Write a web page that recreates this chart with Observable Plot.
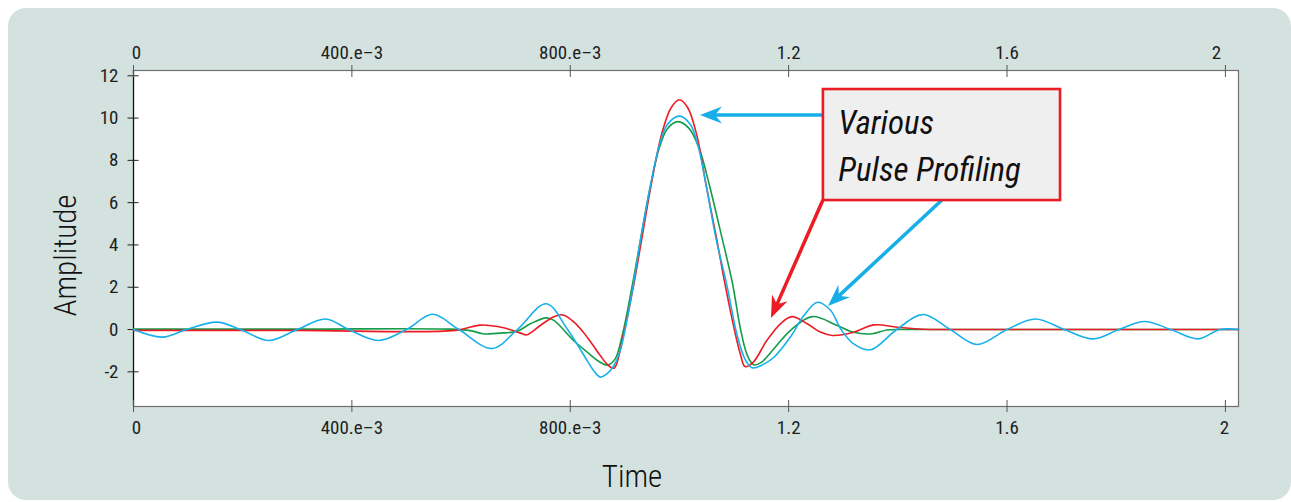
<!DOCTYPE html>
<html>
<head>
<meta charset="utf-8">
<script src="https://cdn.jsdelivr.net/npm/d3@7"></script>
<script src="https://cdn.jsdelivr.net/npm/@observablehq/plot@0.6"></script>
<style>
  html, body { margin: 0; padding: 0; background: #ffffff; }
  #wrap { position: relative; width: 1291px; height: 502px; overflow: hidden; }
  #panel { position: absolute; left: 8px; top: 8px; width: 1283px; height: 492px; background: #d4e2df; border-radius: 18px; }
  #chart { position: absolute; left: 0; top: 0; }
</style>
</head>
<body>
<div id="wrap"><div id="panel"></div><div id="chart"></div></div>
<script>
// ---- data ----
const xDomain = [0, 2.024];
const yDomain = [-3.64, 12.25];
const xTicks = [0, 0.4, 0.8, 1.2, 1.6, 2];
const xTickLabels = ["0", "400.e\u20133", "800.e\u20133", "1.2", "1.6", "2"];
const yTicks = [-2, 0, 2, 4, 6, 8, 10, 12];

const blueT = [0, 0.053, 0.097, 0.153, 0.196, 0.248, 0.300, 0.352, 0.394, 0.449, 0.500, 0.548, 0.596, 0.657, 0.703, 0.756, 0.795, 0.831, 0.843, 0.855, 0.867, 0.880, 0.892, 0.905, 0.916, 0.930, 0.947, 0.962, 0.978, 1.000, 1.020, 1.034, 1.049, 1.067, 1.087, 1.105, 1.120, 1.133, 1.150, 1.173, 1.203, 1.228, 1.253, 1.277, 1.296, 1.319, 1.350, 1.398, 1.446, 1.496, 1.545, 1.600, 1.652, 1.705, 1.758, 1.805, 1.852, 1.900, 1.950, 1.990, 2.024];
const blueV = [0, -0.36, 0, 0.35, 0, -0.52, 0, 0.50, 0, -0.52, 0, 0.72, 0, -0.90, 0, 1.22, 0, -1.47, -1.95, -2.25, -2.10, -1.70, -0.95, 0.60, 2.20, 4.44, 6.81, 8.60, 9.70, 10.09, 9.70, 8.70, 6.81, 4.30, 2.08, -0.20, -1.40, -1.81, -1.70, -1.31, -0.36, 0.66, 1.29, 0.90, 0, -0.68, -0.96, 0, 0.71, 0, -0.71, 0, 0.50, 0, -0.44, 0, 0.38, 0, -0.44, 0, 0];

const greenT = [0, 0.300, 0.580, 0.617, 0.640, 0.678, 0.703, 0.727, 0.756, 0.770, 0.806, 0.831, 0.852, 0.868, 0.882, 0.895, 0.913, 0.930, 0.947, 0.962, 0.978, 0.997, 1.018, 1.037, 1.055, 1.077, 1.097, 1.112, 1.124, 1.136, 1.150, 1.173, 1.203, 1.243, 1.289, 1.319, 1.353, 1.380, 1.410, 1.500, 1.700, 1.900, 2.024];
const greenV = [0.02, 0.02, 0.02, -0.05, -0.20, -0.16, -0.08, 0.27, 0.55, 0.43, -0.52, -1.07, -1.50, -1.68, -1.40, -0.30, 2.00, 4.44, 6.81, 8.50, 9.50, 9.83, 9.50, 8.50, 6.81, 4.44, 2.20, 0.0, -1.20, -1.67, -1.55, -0.91, -0.05, 0.61, 0.19, -0.13, -0.20, -0.02, 0.0, 0.0, 0.0, 0.0, 0.0];

const redT = [0, 0.300, 0.590, 0.635, 0.678, 0.709, 0.720, 0.745, 0.770, 0.787, 0.807, 0.831, 0.855, 0.868, 0.880, 0.897, 0.916, 0.932, 0.948, 0.968, 0.985, 1.000, 1.015, 1.032, 1.049, 1.067, 1.084, 1.103, 1.112, 1.120, 1.135, 1.160, 1.185, 1.206, 1.234, 1.258, 1.280, 1.319, 1.356, 1.399, 1.447, 1.500, 1.700, 1.900, 2.024];
const redV = [-0.04, -0.04, -0.04, 0.21, 0.08, -0.17, -0.25, 0.19, 0.61, 0.69, 0.35, -0.36, -1.23, -1.65, -1.83, -0.28, 2.08, 4.44, 6.81, 9.30, 10.50, 10.87, 10.50, 9.17, 6.81, 4.44, 2.08, -0.28, -1.20, -1.75, -1.55, -0.52, 0.27, 0.61, 0.27, -0.12, -0.28, -0.13, 0.22, 0.11, 0.01, 0.0, 0.0, 0.0, 0.0];

const seriesNames = ["green", "red", "blue"];
const seriesColors = ["#149c48", "#ec1c24", "#17b0ea"];

// annotation (data units)
const boxX = [1.2637, 1.698];
const boxY = [6.10, 11.35];
const noteText = "Various\nPulse Profiling";
const noteX = 1.291;
const noteY = 7.04;
const arrowX1 = [1.2637, 1.2637, 1.4817];
const arrowY1 = [10.12, 6.10, 6.10];
const arrowX2 = [1.0385, 1.1685, 1.273];
const arrowY2 = [10.12, 0.52, 1.09];
const arrowColor = ["#17aee8", "#ec1c24", "#17aee8"];

// ---- build tables ----
const seriesT = {blue: blueT, green: greenT, red: redT};
const seriesV = {blue: blueV, green: greenV, red: redV};
const lineData = seriesNames.flatMap(s => seriesT[s].map((t, i) => ({series: s, t, v: seriesV[s][i]})));
const tickData = xTicks.map((v, i) => ({v, label: xTickLabels[i], i}));
const arrows = arrowX1.map((x1, i) => ({x1, y1: arrowY1[i], x2: arrowX2[i], y2: arrowY2[i], color: arrowColor[i]}));

const FONT = '"Liberation Sans Narrow", "Roboto Condensed", "DejaVu Sans Condensed", "Arial Narrow", Roboto, sans-serif';

const arrowMark = (index, scales) => {
  const g = d3.create("svg:g");
  for (const a of arrows) {
    const x1 = scales.x(a.x1), y1 = scales.y(a.y1), x2 = scales.x(a.x2), y2 = scales.y(a.y2);
    const ang = Math.atan2(y2 - y1, x2 - x1);
    const ux = Math.cos(ang), uy = Math.sin(ang), px = -uy, py = ux;
    const L = 22, W = 8.5, N = 15;
    const bx = x2 - ux * L, by = y2 - uy * L;
    const nx = x2 - ux * N, ny = y2 - uy * N;
    g.append("line")
      .attr("x1", x1).attr("y1", y1).attr("x2", nx + ux * 2).attr("y2", ny + uy * 2)
      .attr("stroke", a.color).attr("stroke-width", 3.5);
    g.append("path")
      .attr("d", `M${x2},${y2}L${bx + px * W},${by + py * W}L${nx},${ny}L${bx - px * W},${by - py * W}Z`)
      .attr("fill", a.color);
  }
  return g.node();
};

const midTicks = tickData.filter(d => d.i > 0 && d.i < 5);
const firstTick = tickData.filter(d => d.i === 0);
const lastTick = tickData.filter(d => d.i === 5);

const chart = Plot.plot({
  width: 1291,
  height: 502,
  marginLeft: 133,
  marginRight: 53,
  marginTop: 70,
  marginBottom: 96,
  x: {domain: xDomain},
  y: {domain: yDomain},
  style: {background: "transparent", fontFamily: FONT, fontSize: "19px", color: "#1e1e1e"},
  marks: [
    Plot.frame({fill: "white", stroke: "#6f6f6f", strokeWidth: 1.2}),
    Plot.ruleX([xDomain[0]], {stroke: "#111", strokeWidth: 1.2}),
    // y axis ticks + labels (ticks cross the axis line)
    Plot.axisY({ticks: yTicks, tickSize: 11, dx: 5.5, tickPadding: 9.5, tickFormat: d => `${d}`, fontSize: 19, label: null, stroke: "#222"}),
    // x axis ticks top & bottom (crossing frame)
    Plot.axisX({anchor: "top", ticks: xTicks, tickSize: 12, dy: 6, tickFormat: () => "", label: null, stroke: "#555"}),
    Plot.axisX({anchor: "bottom", ticks: xTicks, tickSize: 12, dy: -6, tickFormat: () => "", label: null, stroke: "#555"}),
    // x tick labels
    Plot.text(midTicks, {x: "v", text: "label", frameAnchor: "top", lineAnchor: "bottom", dy: -11.5, fontSize: 19}),
    Plot.text(firstTick, {x: "v", text: "label", frameAnchor: "top", lineAnchor: "bottom", dy: -11.5, dx: 3, fontSize: 19}),
    Plot.text(lastTick, {x: "v", text: "label", frameAnchor: "top", lineAnchor: "bottom", dy: -11.5, dx: -9, fontSize: 19}),
    Plot.text(midTicks, {x: "v", text: "label", frameAnchor: "bottom", lineAnchor: "bottom", dy: 27, fontSize: 19}),
    Plot.text(firstTick, {x: "v", text: "label", frameAnchor: "bottom", lineAnchor: "bottom", dy: 27, dx: 3, fontSize: 19}),
    Plot.text(lastTick, {x: "v", text: "label", frameAnchor: "bottom", lineAnchor: "bottom", dy: 27, dx: -1, fontSize: 19}),
    // axis titles
    Plot.text(["Amplitude"], {text: d => d, frameAnchor: "left", textAnchor: "middle", dx: -67, dy: 17, rotate: -90, fontSize: 31, fontWeight: 300, fill: "#111"}),
    Plot.text(["Time"], {text: d => d, frameAnchor: "bottom", textAnchor: "middle", dx: -54, dy: 80, lineAnchor: "bottom", fontSize: 31, fontWeight: 300, fill: "#111"}),
    // series
    Plot.line(lineData, {x: "t", y: "v", z: "series", stroke: d => seriesColors[seriesNames.indexOf(d.series)], strokeWidth: 1.6, curve: "catmull-rom"}),
    // annotation
    arrowMark,
    Plot.rect([0], {x1: () => boxX[0], x2: () => boxX[1], y1: () => boxY[0], y2: () => boxY[1], fill: "#efefef", stroke: "#ec1c24", strokeWidth: 2.6}),
    Plot.text([noteText], {text: d => d, x: () => noteX, y: () => noteY, textAnchor: "start", lineAnchor: "bottom", lineHeight: 1.424, fontSize: 33, fontStyle: "italic", fill: "#111"})
  ]
});
document.getElementById("chart").appendChild(chart);
</script>
</body>
</html>
